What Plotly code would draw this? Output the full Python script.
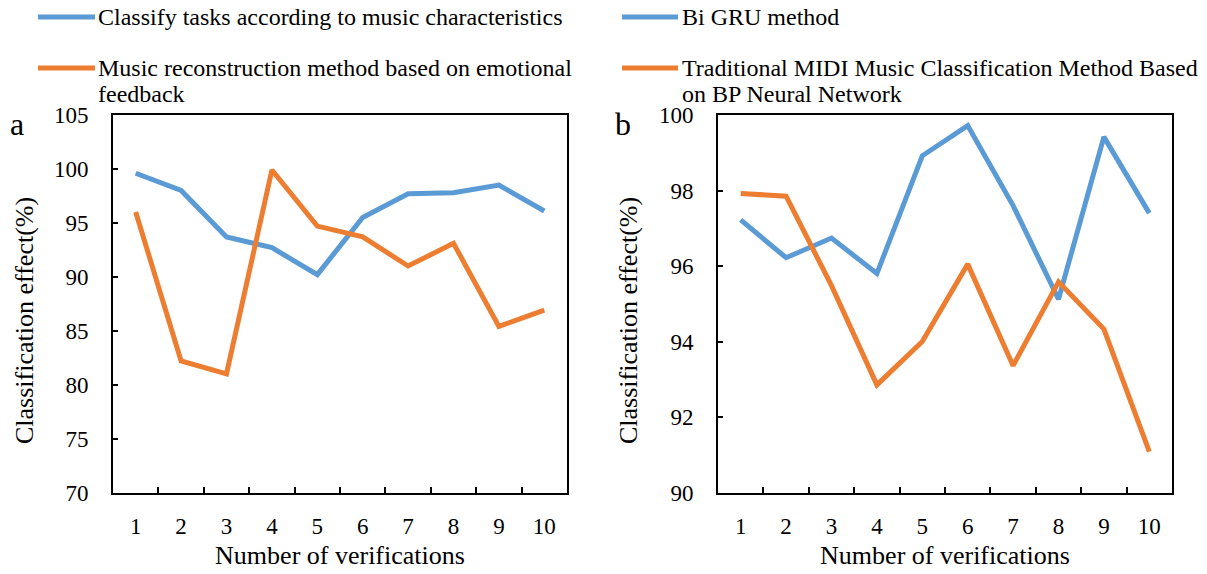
import plotly.graph_objects as go
from plotly.subplots import make_subplots

W, H = 1207, 574

verifications = ["1", "2", "3", "4", "5", "6", "7", "8", "9", "10"]

# Panel a
a_music_characteristics = [99.6, 98.0, 93.7, 92.7, 90.2, 95.5, 97.7, 97.8, 98.5, 96.1]
a_emotional_feedback = [96.0, 82.2, 81.0, 99.9, 94.7, 93.7, 91.0, 93.1, 85.4, 86.9]

# Panel b
b_bigru = [97.22, 96.22, 96.74, 95.8, 98.92, 99.72, 97.6, 95.12, 99.42, 97.4]
b_bp_midi = [97.92, 97.85, 95.48, 92.85, 94.0, 96.05, 93.36, 95.58, 94.33, 91.08]

name_a1 = "Classify tasks according to music characteristics"
name_a2 = "Music reconstruction method based on emotional feedback"
name_b1 = "Bi GRU method"
name_b2 = "Traditional MIDI Music Classification Method Based on BP Neural Network"

BLUE = "#5B9BD5"
ORANGE = "#ED7D31"
FONT = "Liberation Serif"


def px(x):
    return x / W


def py(y):
    return 1 - y / H


fig = make_subplots(rows=1, cols=2)

fig.add_trace(go.Scatter(x=verifications, y=a_music_characteristics, mode="lines", name=name_a1,
                         line=dict(color=BLUE, width=5), showlegend=False), row=1, col=1)
fig.add_trace(go.Scatter(x=verifications, y=a_emotional_feedback, mode="lines", name=name_a2,
                         line=dict(color=ORANGE, width=5), showlegend=False), row=1, col=1)
fig.add_trace(go.Scatter(x=verifications, y=b_bigru, mode="lines", name=name_b1,
                         line=dict(color=BLUE, width=5), showlegend=False), row=1, col=2)
fig.add_trace(go.Scatter(x=verifications, y=b_bp_midi, mode="lines", name=name_b2,
                         line=dict(color=ORANGE, width=5), showlegend=False), row=1, col=2)

ydom = [py(492.5), py(115)]
xaxis_common = dict(type="category", tickson="boundaries", ticks="inside", ticklen=6, tickwidth=1.5,
                    tickcolor="black", showline=True, linewidth=2, linecolor="black", mirror=True,
                    showgrid=False, zeroline=False, automargin=False, range=[-0.5, 9.5],
                    tickfont=dict(family=FONT, size=23, color="black"), ticklabelstandoff=12,
                    title=dict(text="Number of verifications", font=dict(family=FONT, size=26, color="black"),
                               standoff=8))
yaxis_common = dict(ticks="inside", ticklen=5, tickwidth=1.5, tickcolor="black", showline=True,
                    linewidth=2, linecolor="black", mirror=True, showgrid=False, zeroline=False,
                    automargin=False, tickfont=dict(family=FONT, size=23, color="black"),
                    ticklabelstandoff=18)

fig.update_xaxes(**xaxis_common)
fig.update_yaxes(**yaxis_common)
fig.update_layout(
    xaxis=dict(domain=[px(113), px(567)]),
    xaxis2=dict(domain=[px(718), px(1172)]),
    yaxis=dict(domain=ydom, range=[70, 105], dtick=5, tick0=70),
    yaxis2=dict(domain=ydom, range=[90, 100], dtick=2, tick0=90),
)

annotations = []
shapes = []


def text(x, y, s, size, xanchor="left", angle=0):
    annotations.append(dict(x=px(x), y=py(y), xref="paper", yref="paper", text=s, showarrow=False,
                            xanchor=xanchor, yanchor="middle", textangle=angle,
                            font=dict(family=FONT, size=size, color="black")))


def key(x0, x1, y, color):
    shapes.append(dict(type="line", xref="paper", yref="paper", x0=px(x0), x1=px(x1), y0=py(y), y1=py(y),
                       line=dict(color=color, width=5)))


# Legend (two columns)
key(38, 95, 17, BLUE)
text(96, 17, name_a1, 24)
key(38, 95, 68, ORANGE)
text(96, 68, "Music reconstruction method based on emotional", 24)
text(96, 94, "feedback", 24)

key(622, 678, 17, BLUE)
text(680, 17, name_b1, 24)
key(622, 678, 68, ORANGE)
text(680, 68, "Traditional MIDI Music Classification Method Based", 24)
text(680, 94, "on BP Neural Network", 24)

# Panel labels
text(17, 124, "a", 32, xanchor="center")
text(623, 124, "b", 32, xanchor="center")

# Y axis titles
text(24, 321, "Classification effect(%)", 26, xanchor="center", angle=-90)
text(628, 321, "Classification effect(%)", 26, xanchor="center", angle=-90)

fig.update_layout(
    width=W, height=H, margin=dict(l=0, r=0, t=0, b=0),
    paper_bgcolor="white", plot_bgcolor="white",
    font=dict(family=FONT, color="black"),
    annotations=annotations, shapes=shapes, showlegend=False,
)

fig.write_html("out.html")
